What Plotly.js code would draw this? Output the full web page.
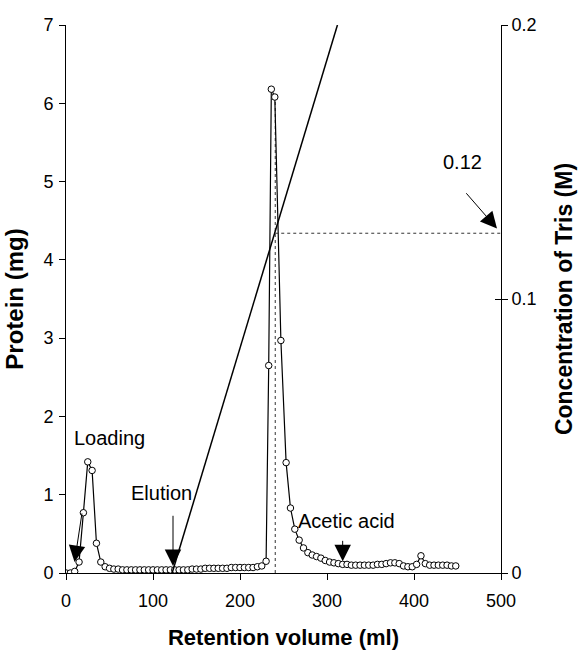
<!DOCTYPE html>
<html>
<head>
<meta charset="utf-8">
<script src="https://cdn.plot.ly/plotly-3.0.1.min.js"></script>
<style>html,body{margin:0;padding:0;background:#fff;}#chart{width:580px;height:654px;}</style>
</head>
<body>
<div id="chart"></div>
<script>
// Protein elution profile (retention volume in ml, protein in mg)
const volume = [0,5,10,15,20,25,30,35,40,45,50,55,60,65,70,75,80,85,90,95,100,105,110,115,120,125,130,135,140,145,150,155,160,165,170,175,180,185,190,195,200,205,210,215,220,225,230,233,236,240,247,253,258,263,268,273,278,283,288,293,298,303,308,313,318,323,328,333,338,343,348,353,358,363,368,373,378,383,388,393,398,403,408,413,418,423,428,433,438,443,448];
const protein = [0,0,0.02,0.14,0.77,1.42,1.31,0.38,0.14,0.08,0.06,0.05,0.05,0.04,0.04,0.04,0.04,0.04,0.04,0.04,0.04,0.04,0.04,0.04,0.04,0.04,0.04,0.04,0.04,0.05,0.05,0.05,0.06,0.06,0.06,0.06,0.06,0.06,0.07,0.07,0.07,0.07,0.07,0.07,0.08,0.09,0.15,2.65,6.18,6.08,2.97,1.41,0.83,0.56,0.42,0.32,0.26,0.23,0.21,0.19,0.16,0.14,0.13,0.12,0.11,0.11,0.10,0.10,0.10,0.10,0.10,0.10,0.11,0.11,0.12,0.13,0.13,0.12,0.09,0.08,0.08,0.11,0.22,0.12,0.10,0.10,0.10,0.10,0.10,0.09,0.09];

// Tris gradient (M)
const gradVolume = [122, 312];
const gradTris = [0, 0.2];

// Dotted guide lines
const peakVolume = [240.5, 240.5];
const peakGuide = [0, 6.08];
const trisGuideVolume = [240.5, 500];
const trisGuide = [0.124, 0.124];

// Tick labels
const xTicks = [0,100,200,300,400,500];
const yTicks = [0,1,2,3,4,5,6,7];
const y2Ticks = [0,0.1,0.2];
const y2TickText = ['0','0.1','0.2'];

const FONT = 'Liberation Sans, Arial, sans-serif';

const traces = [
  {x: peakVolume, y: peakGuide, mode: 'lines', line: {color: '#333', width: 1, dash: 'dot'}, hoverinfo: 'skip', showlegend: false},
  {x: trisGuideVolume, y: trisGuide, yaxis: 'y2', mode: 'lines', line: {color: '#333', width: 1, dash: 'dot'}, hoverinfo: 'skip', showlegend: false},
  {x: gradVolume, y: gradTris, yaxis: 'y2', mode: 'lines', line: {color: '#000', width: 1.5}, showlegend: false},
  {x: volume, y: protein, mode: 'lines+markers', line: {color: '#000', width: 1.2},
   marker: {symbol: 'circle', size: 6.5, color: '#fff', line: {color: '#000', width: 1}}, showlegend: false}
];

function arrow(xTip, yTip, xTail, yTail) {
  return {x: xTip, y: yTip, ax: xTail, ay: yTail, xref: 'x', yref: 'y', axref: 'x', ayref: 'y',
    text: '', showarrow: true, arrowhead: 2, arrowsize: 3.3, arrowwidth: 1, arrowcolor: '#000', standoff: 0, startstandoff: 0};
}
function label(txt, x, y) {
  return {x: x, y: y, xref: 'x', yref: 'y', text: txt, showarrow: false, font: {family: FONT, size: 20, color: '#000'}};
}

const layout = {
  width: 580, height: 654,
  margin: {l: 66, r: 79, t: 25, b: 81},
  paper_bgcolor: '#fff', plot_bgcolor: '#fff',
  font: {family: FONT, color: '#000', size: 18},
  xaxis: {range: [0, 500], tickvals: xTicks, ticks: 'outside', ticklen: 6, tickcolor: '#000',
    showline: true, linecolor: '#000', linewidth: 1, showgrid: false, zeroline: false,
    tickfont: {family: FONT, size: 18}, ticklabelstandoff: 5,
    title: {text: '<b>Retention volume (ml)</b>', font: {family: FONT, size: 22}, standoff: 20}},
  yaxis: {range: [0, 7], tickvals: yTicks, ticks: 'outside', ticklen: 6, tickcolor: '#000',
    showline: true, linecolor: '#000', linewidth: 1, showgrid: false, zeroline: false,
    tickfont: {family: FONT, size: 18}, ticklabelstandoff: 2,
    title: {text: '<b>Protein (mg)</b>', font: {family: FONT, size: 24}, standoff: 12}},
  yaxis2: {range: [0, 0.2], overlaying: 'y', side: 'right', tickvals: y2Ticks, ticktext: y2TickText,
    ticks: 'outside', ticklen: 6, tickcolor: '#000', showline: true, linecolor: '#000', linewidth: 1,
    showgrid: false, zeroline: false, tickfont: {family: FONT, size: 18}, ticklabelstandoff: 0,
    title: {text: '<b>Concentration of Tris (M)</b>', font: {family: FONT, size: 23}, standoff: 20}},
  yaxis3: {range: [0, 0.2], overlaying: 'y', side: 'right', tickvals: y2Ticks, ticks: 'inside', ticklen: 6,
    tickcolor: '#000', showticklabels: false, showline: false, showgrid: false, zeroline: false},
  annotations: [
    arrow(9.8, 0.14, 18.6, 0.78),
    arrow(123, 0.09, 123, 0.75),
    arrow(318, 0.15, 318, 0.43),
    arrow(495.4, 4.40, 458.6, 4.87),
    label('Loading', 50, 1.73),
    label('Elution', 110, 1.02),
    label('Acetic acid', 322, 0.66),
    label('0.12', 456, 5.25)
  ]
};

// invisible trace that registers the inward tick axis
traces.push({x: [0], y: [0], yaxis: 'y3', mode: 'markers', marker: {opacity: 0}, hoverinfo: 'skip', showlegend: false});

Plotly.newPlot('chart', traces, layout, {staticPlot: true, displayModeBar: false});
</script>
</body>
</html>
